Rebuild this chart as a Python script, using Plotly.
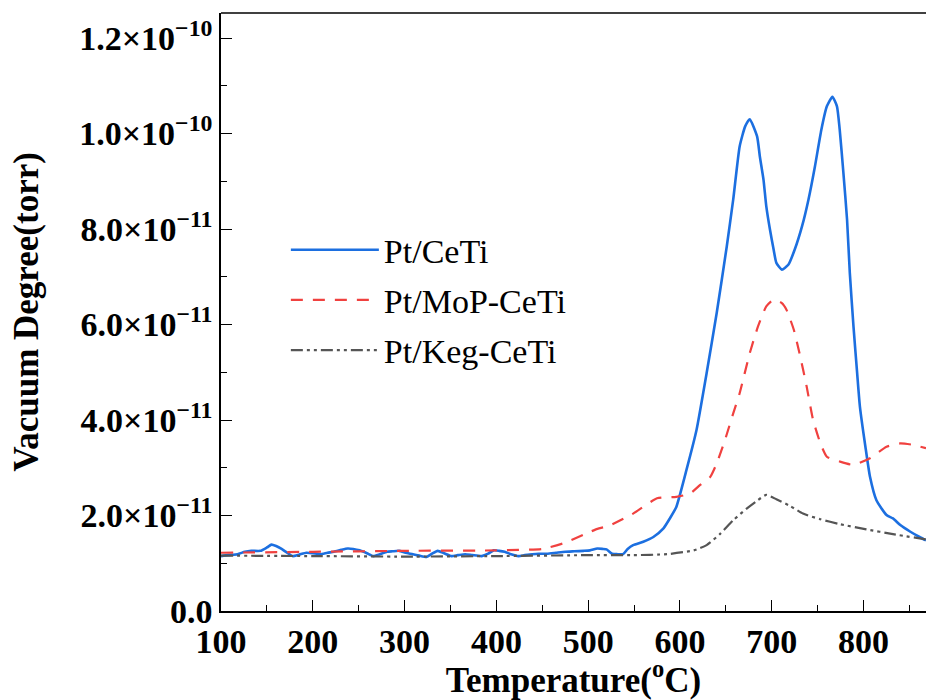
import plotly.graph_objects as go

# ---- data (temperature in °C, vacuum degree in units of 1e-11 torr) ----
ceti_x = [100, 108, 118, 126, 133, 143, 150, 155, 160, 166, 172, 178, 185, 193, 200, 208, 216, 223, 231, 238,
          244, 251, 259, 266, 273, 281, 287, 294, 301, 309, 316, 324, 330, 336, 343, 351, 358, 366, 374, 384,
          391, 397, 403, 409, 416, 424, 431, 439, 446, 455, 465, 475, 485, 495, 502, 510, 516, 520, 526, 532,
          538, 543, 549, 560, 571, 582, 589, 596, 607, 618, 629, 640, 651, 658, 665, 671, 676, 684, 687, 691,
          694, 698, 702, 705, 711, 718, 725, 733, 740, 747, 754, 760, 766, 771, 774, 778, 782, 785, 789, 793,
          796, 802, 807, 814, 825, 832, 840, 851, 861, 868]
ceti_y = [1.15, 1.17, 1.19, 1.24, 1.26, 1.26, 1.33, 1.39, 1.36, 1.30, 1.22, 1.15, 1.18, 1.22, 1.21, 1.19, 1.22, 1.24, 1.28, 1.31,
          1.30, 1.27, 1.21, 1.15, 1.19, 1.24, 1.25, 1.26, 1.22, 1.19, 1.16, 1.13, 1.20, 1.26, 1.21, 1.15, 1.17, 1.19, 1.17, 1.15,
          1.20, 1.27, 1.26, 1.24, 1.19, 1.15, 1.17, 1.19, 1.20, 1.20, 1.22, 1.24, 1.25, 1.26, 1.27, 1.31, 1.30, 1.29, 1.20, 1.19,
          1.19, 1.30, 1.38, 1.45, 1.55, 1.73, 1.94, 2.18, 2.95, 3.79, 4.98, 6.24, 7.64, 8.62, 9.73, 10.15, 10.30, 9.94, 9.52, 9.03,
          8.48, 7.99, 7.57, 7.29, 7.15, 7.25, 7.57, 8.06, 8.62, 9.31, 10.08, 10.57, 10.77, 10.57, 10.08, 9.18, 8.20, 7.08, 5.96, 4.98,
          4.28, 3.44, 2.81, 2.32, 2.01, 1.94, 1.80, 1.66, 1.55, 1.48]

mop_x = [100, 200, 300, 400, 450, 475, 495, 510, 522, 549, 575, 596, 611, 622, 633, 640, 649, 658, 665, 676,
         685, 694, 702, 711, 716, 724, 731, 738, 745, 753, 760, 774, 789, 807, 825, 840, 854, 868]
mop_y = [1.22, 1.24, 1.26, 1.27, 1.30, 1.43, 1.60, 1.72, 1.78, 2.04, 2.36, 2.39, 2.46, 2.64, 2.81, 3.09, 3.58, 4.14, 4.56, 5.40,
         5.96, 6.38, 6.52, 6.45, 6.31, 5.89, 5.33, 4.70, 4.00, 3.51, 3.23, 3.13, 3.06, 3.20, 3.44, 3.51, 3.48, 3.41]

keg_x = [100, 200, 300, 400, 500, 549, 586, 615, 629, 644, 658, 673, 684, 694, 705, 720, 734, 753, 774, 803, 832, 868]
keg_y = [1.16, 1.15, 1.14, 1.15, 1.17, 1.17, 1.19, 1.27, 1.38, 1.62, 1.90, 2.15, 2.31, 2.43, 2.34, 2.20, 2.04, 1.92, 1.82, 1.71, 1.61, 1.50]

series_names = ["Pt/CeTi", "Pt/MoP-CeTi", "Pt/Keg-CeTi"]
unit = 1e-11

y_tickvals = [0, 2e-11, 4e-11, 6e-11, 8e-11, 1.0e-10, 1.2e-10]
y_ticktext = ["0.0", "2.0×10<sup>−11</sup>", "4.0×10<sup>−11</sup>", "6.0×10<sup>−11</sup>",
              "8.0×10<sup>−11</sup>", "1.0×10<sup>−10</sup>", "1.2×10<sup>−10</sup>"]
x_tickvals = [100, 200, 300, 400, 500, 600, 700, 800]

FONT = "Liberation Serif, Times New Roman, serif"

fig = go.Figure()
fig.add_trace(go.Scatter(x=ceti_x, y=[v * unit for v in ceti_y], mode="lines", name=series_names[0],
                         legendgroup="a",
                         line=dict(color="#1c6fe0", width=2.6, shape="spline", smoothing=0.5)))
fig.add_trace(go.Scatter(x=mop_x, y=[v * unit for v in mop_y], mode="lines", name=series_names[1],
                         legendgroup="b",
                         line=dict(color="#f0413f", width=2.2, dash="12px,10px", shape="spline", smoothing=0.5)))
fig.add_trace(go.Scatter(x=keg_x, y=[v * unit for v in keg_y], mode="lines", name=series_names[2],
                         legendgroup="c",
                         line=dict(color="#555555", width=2.2, dash="12px,4px,3px,4px,3px,4px", shape="spline", smoothing=0.5)))

fig.update_layout(
    width=926, height=700,
    margin=dict(l=221, r=0, t=13, b=89, autoexpand=False),
    paper_bgcolor="white", plot_bgcolor="white",
    showlegend=True,
    legend=dict(x=0.092, y=0.652, xanchor="left", yanchor="top",
                font=dict(family=FONT, size=34, color="black"),
                bgcolor="rgba(0,0,0,0)", itemwidth=88, traceorder="grouped", tracegroupgap=3),
    shapes=[dict(type="line", xref="paper", yref="paper", x0=0, x1=1, y0=1, y1=1,
                 line=dict(color="black", width=1.5))],
)

fig.update_xaxes(
    range=[100, 868], showgrid=False, zeroline=False, automargin=False,
    showline=True, linecolor="black", linewidth=1.5,
    ticks="inside", ticklen=11, tickwidth=1.3, tickcolor="black",
    tickmode="array", tickvals=x_tickvals, ticklabelstandoff=-1,
    minor=dict(ticks="inside", ticklen=6, tickwidth=1.3, tickcolor="black", tickmode="linear", tick0=150, dtick=100),
    tickfont=dict(family=FONT, size=34, color="black", weight="bold"),
    title=dict(text="Temperature(<sup>o</sup>C)", font=dict(family=FONT, size=35, color="black", weight="bold"),
               standoff=7),
)
fig.update_yaxes(
    range=[0, 1.2524e-10], showgrid=False, zeroline=False, automargin=False,
    showline=True, linecolor="black", linewidth=1.5,
    ticks="inside", ticklen=11, tickwidth=1.3, tickcolor="black",
    tickmode="array", tickvals=y_tickvals, ticktext=y_ticktext,
    minor=dict(ticks="inside", ticklen=6, tickwidth=1.3, tickcolor="black", tickmode="linear", tick0=1e-11, dtick=2e-11),
    tickfont=dict(family=FONT, size=34, color="black", weight="bold"),
    title=dict(text="Vacuum Degree(torr)", font=dict(family=FONT, size=35, color="black", weight="bold"),
               standoff=30),
)

fig.write_html("out.html",
               config={"displayModeBar": False},
               post_script="document.body.style.margin='0';document.body.style.overflow='hidden';")
